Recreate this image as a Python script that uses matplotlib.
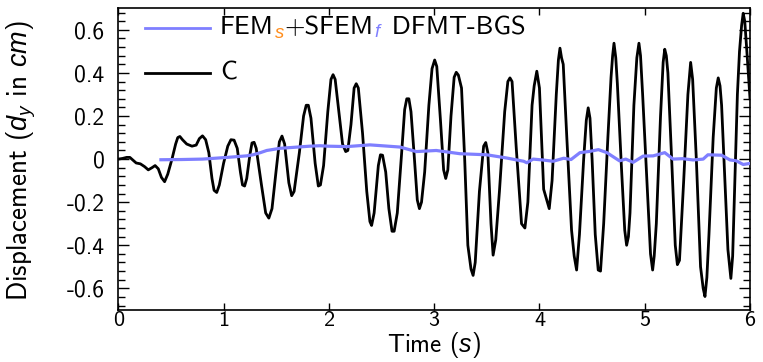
import matplotlib
matplotlib.use("Agg")
import matplotlib.pyplot as plt
from matplotlib.offsetbox import TextArea, DrawingArea, HPacker, VPacker, AnchoredOffsetbox
from matplotlib.lines import Line2D
from matplotlib.ticker import FixedLocator, MultipleLocator, FixedFormatter

plt.rcParams['font.family'] = ['cmss10', 'DejaVu Sans']
plt.rcParams['mathtext.fontset'] = 'custom'
plt.rcParams['mathtext.rm'] = 'cmss10'
plt.rcParams['mathtext.it'] = 'Liberation Sans:italic'
plt.rcParams['mathtext.cal'] = 'cmss10'
plt.rcParams['axes.unicode_minus'] = False
plt.rcParams['axes.formatter.use_mathtext'] = False

# ---- data : (time s, displacement cm) ----
c_points = [
    (0.00, 0.000), (0.04, 0.003), (0.08, 0.008), (0.11, 0.008), (0.14, -0.005),
    (0.17, -0.018), (0.21, -0.022), (0.25, -0.035), (0.285, -0.050), (0.32, -0.040),
    (0.35, -0.030), (0.38, -0.045), (0.41, -0.085), (0.44, -0.105), (0.47, -0.07),
    (0.51, 0.00), (0.545, 0.07), (0.565, 0.100), (0.585, 0.105), (0.61, 0.09),
    (0.65, 0.07), (0.70, 0.06), (0.74, 0.065), (0.77, 0.095), (0.80, 0.108),
    (0.83, 0.09), (0.86, 0.03), (0.89, -0.09), (0.91, -0.145), (0.935, -0.155),
    (0.96, -0.12), (1.00, -0.02), (1.04, 0.06), (1.07, 0.09), (1.10, 0.088),
    (1.13, 0.05), (1.16, -0.06), (1.18, -0.12), (1.20, -0.125), (1.22, -0.09),
    (1.25, 0.02), (1.27, 0.075), (1.29, 0.078), (1.31, 0.05), (1.36, -0.12),
    (1.40, -0.25), (1.43, -0.274), (1.46, -0.23), (1.50, -0.05), (1.53, 0.08),
    (1.555, 0.107), (1.58, 0.07), (1.62, -0.11), (1.647, -0.17), (1.67, -0.15),
    (1.72, 0.03), (1.76, 0.20), (1.785, 0.250), (1.805, 0.250), (1.83, 0.19),
    (1.87, -0.02), (1.90, -0.125), (1.92, -0.12), (1.95, -0.03), (1.99, 0.22),
    (2.02, 0.37), (2.04, 0.392), (2.06, 0.37), (2.09, 0.24), (2.13, 0.07),
    (2.16, 0.035), (2.18, 0.04), (2.21, 0.16), (2.24, 0.33), (2.26, 0.350),
    (2.28, 0.33), (2.32, 0.12), (2.36, -0.15), (2.39, -0.29), (2.406, -0.308),
    (2.43, -0.25), (2.47, -0.03), (2.49, 0.02), (2.51, 0.018), (2.54, -0.06),
    (2.57, -0.23), (2.60, -0.335), (2.62, -0.335), (2.65, -0.25), (2.69, 0.02),
    (2.72, 0.23), (2.74, 0.28), (2.76, 0.28), (2.78, 0.22), (2.81, 0.02),
    (2.84, -0.19), (2.86, -0.23), (2.88, -0.20), (2.91, -0.06), (2.95, 0.25),
    (2.98, 0.42), (3.005, 0.46), (3.025, 0.43), (3.06, 0.18), (3.09, -0.05),
    (3.11, -0.09), (3.13, -0.05), (3.16, 0.20), (3.19, 0.38), (3.21, 0.403),
    (3.23, 0.39), (3.26, 0.33), (3.29, 0.00), (3.32, -0.40), (3.35, -0.51),
    (3.37, -0.54), (3.39, -0.48), (3.43, -0.15), (3.47, 0.06), (3.49, 0.077),
    (3.51, 0.03), (3.54, -0.30), (3.56, -0.446), (3.585, -0.375), (3.62, -0.15),
    (3.67, 0.22), (3.70, 0.36), (3.72, 0.377), (3.74, 0.36), (3.78, 0.05),
    (3.83, -0.30), (3.862, -0.32), (3.89, -0.20), (3.93, 0.25), (3.95, 0.34),
    (3.975, 0.408), (4.00, 0.33), (4.04, -0.14), (4.07, -0.19), (4.093, -0.23),
    (4.12, -0.10), (4.16, 0.30), (4.18, 0.46), (4.195, 0.515), (4.21, 0.47),
    (4.226, 0.44), (4.26, 0.10), (4.305, -0.33), (4.33, -0.45), (4.353, -0.515),
    (4.38, -0.35), (4.42, 0.00), (4.445, 0.18), (4.463, 0.238), (4.48, 0.19),
    (4.50, 0.00), (4.53, -0.35), (4.558, -0.515), (4.58, -0.52), (4.61, -0.30),
    (4.65, 0.10), (4.68, 0.38), (4.695, 0.48), (4.708, 0.538), (4.725, 0.47),
    (4.74, 0.35), (4.78, -0.05), (4.81, -0.33), (4.828, -0.40), (4.845, -0.36),
    (4.86, -0.25), (4.897, 0.25), (4.925, 0.47), (4.945, 0.538), (4.96, 0.48),
    (4.98, 0.30), (5.03, -0.20), (5.055, -0.44), (5.075, -0.515), (5.09, -0.45),
    (5.11, -0.30), (5.15, 0.20), (5.175, 0.45), (5.19, 0.51), (5.205, 0.48),
    (5.22, 0.40), (5.26, -0.05), (5.29, -0.40), (5.31, -0.49), (5.33, -0.47),
    (5.37, -0.10), (5.41, 0.30), (5.436, 0.449), (5.455, 0.37), (5.49, 0.00),
    (5.53, -0.50), (5.555, -0.60), (5.572, -0.638), (5.59, -0.55), (5.61, -0.35),
    (5.65, 0.10), (5.68, 0.33), (5.698, 0.377), (5.715, 0.34), (5.73, 0.25),
    (5.77, -0.20), (5.79, -0.42), (5.818, -0.554), (5.835, -0.45), (5.85, -0.20),
    (5.88, 0.30), (5.90, 0.50), (5.92, 0.62), (5.935, 0.677), (5.95, 0.64),
    (5.97, 0.50), (6.00, 0.28),
]
c_time = [p[0] for p in c_points]
c_disp = [p[1] for p in c_points]

fem_points = [
    (0.405, -0.003), (0.60, -0.002), (0.80, 0.000), (1.01, 0.007), (1.22, 0.015),
    (1.28, 0.020), (1.35, 0.030), (1.41, 0.040), (1.535, 0.050), (1.82, 0.060),
    (1.915, 0.062), (1.99, 0.060), (2.17, 0.058), (2.39, 0.066), (2.675, 0.056),
    (2.83, 0.035), (3.02, 0.040), (3.245, 0.025), (3.50, 0.020), (3.69, 0.005),
    (3.85, -0.010), (3.88, -0.017), (3.94, 0.000), (4.03, -0.004), (4.13, -0.010),
    (4.23, 0.004), (4.30, -0.002), (4.385, 0.030), (4.48, 0.036), (4.56, 0.044),
    (4.64, 0.030), (4.76, -0.008), (4.82, 0.000), (4.89, -0.015), (4.985, 0.014),
    (5.08, 0.015), (5.19, 0.030), (5.27, 0.000), (5.36, 0.002), (5.46, -0.004),
    (5.555, 0.000), (5.60, 0.020), (5.73, 0.018), (5.81, -0.004), (5.87, -0.008),
    (5.935, -0.025), (6.00, -0.020),
]
fem_time = [p[0] for p in fem_points]
fem_disp = [p[1] for p in fem_points]

x_ticks = [0, 1, 2, 3, 4, 5, 6]
x_ticklabels = ['0', '1', '2', '3', '4', '5', '6']
y_ticks = [-0.6, -0.4, -0.2, 0, 0.2, 0.4, 0.6]
y_ticklabels = ['-0.6', '-0.4', '-0.2', '0', '0.2', '0.4', '0.6']

blue = '#7f7fff'
orange = '#ff8c1a'

fig = plt.figure(figsize=(7.63, 3.62), dpi=100)
ax = fig.add_axes([0.155, 0.144, 0.828, 0.833])

ax.plot(fem_time, fem_disp, color=blue, lw=2.3, zorder=3)
ax.plot(c_time, c_disp, color='black', lw=2.0, zorder=2)

ax.set_xlim(0, 6)
ax.set_ylim(-0.70, 0.70)
ax.xaxis.set_major_locator(FixedLocator(x_ticks))
ax.xaxis.set_major_formatter(FixedFormatter(x_ticklabels))
ax.yaxis.set_major_locator(FixedLocator(y_ticks))
ax.yaxis.set_major_formatter(FixedFormatter(y_ticklabels))
ax.yaxis.set_minor_locator(MultipleLocator(0.04))

ax.tick_params(axis='x', which='major', direction='in', top=True, bottom=True,
               length=5, width=1.0, labelsize=16, pad=1)
ax.tick_params(axis='y', which='major', direction='in', left=True, right=True,
               length=8, width=1.0, labelsize=17, pad=10)
ax.tick_params(axis='y', which='minor', direction='in', left=True, right=True,
               length=5, width=1.0)
for s in ax.spines.values():
    s.set_linewidth(1.2)

ax.set_xlabel('Time ($s$)', fontsize=18, labelpad=0)
ax.set_ylabel('Displacement ($d_y$ in $cm$)', fontsize=19.5)
ax.yaxis.set_label_coords(-0.127, 0.497)

# legend with coloured subscripts
fs = 19
def handle(color):
    da = DrawingArea(47, 14, 0, 0)
    da.add_artist(Line2D([0, 47], [7, 7], color=color, lw=2.0))
    return da

row1 = HPacker(children=[
    handle(blue),
    HPacker(children=[
        TextArea('FEM', textprops=dict(size=fs)),
        TextArea('$_s$', textprops=dict(size=fs, color=orange)),
        TextArea('+SFEM', textprops=dict(size=fs)),
        TextArea('$_f$', textprops=dict(size=fs, color=blue)),
        TextArea(' DFMT-BGS', textprops=dict(size=fs)),
    ], align='baseline', pad=0, sep=0)
], align='center', pad=0, sep=7)
row2 = HPacker(children=[
    handle('black'),
    TextArea('C', textprops=dict(size=fs)),
], align='center', pad=0, sep=7)
leg = VPacker(children=[row1, row2], align='left', pad=0, sep=15)
anch = AnchoredOffsetbox(loc='upper left', child=leg, pad=0, frameon=False,
                         bbox_to_anchor=(0.042, 0.974), bbox_transform=ax.transAxes,
                         borderpad=0)
ax.add_artist(anch)

fig.savefig('out.png', dpi=100)
